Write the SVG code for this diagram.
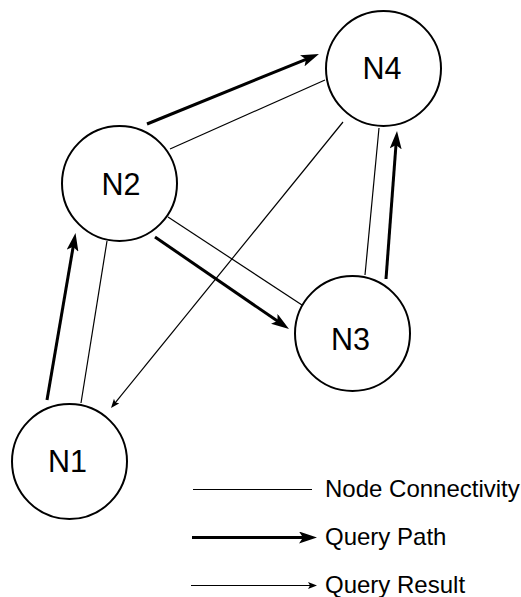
<svg xmlns="http://www.w3.org/2000/svg" width="521" height="597" viewBox="0 0 521 597">
  <style>
    .node circle { fill: #ffffff; stroke: #000000; stroke-width: 2; }
    .node text { font-family: "Liberation Sans", Arial, sans-serif; font-size: 30.5px; fill: #000000; text-anchor: middle; }
    .conn { stroke: #000000; stroke-width: 1.2; fill: none; }
    .path { stroke: #000000; stroke-width: 3; fill: none; marker-end: url(#thickArrow); }
    .result { stroke: #000000; stroke-width: 1.2; fill: none; marker-end: url(#thinArrow); }
    .legend { font-family: "Liberation Sans", Arial, sans-serif; font-size: 24px; fill: #000000; }
  </style>
  <defs>
    <marker id="thickArrow" markerUnits="userSpaceOnUse" markerWidth="18" markerHeight="12" refX="12" refY="6" orient="auto">
      <path d="M0,0 L18,6 L0,12 L4,6 z" fill="#000000"/>
    </marker>
    <marker id="thinArrow" markerUnits="userSpaceOnUse" markerWidth="10" markerHeight="8" refX="6" refY="3.5" orient="auto">
      <path d="M0,0 L9,3.5 L0,7 L2,3.5 z" fill="#000000"/>
    </marker>
  </defs>
  <rect width="521" height="597" fill="#ffffff"/>
  <g id="connectors">
    <line class="conn" x1="170" y1="149" x2="325" y2="80"/>
    <line class="conn" x1="379" y1="128" x2="365" y2="275"/>
    <line class="conn" x1="168" y1="217" x2="302" y2="305"/>
    <line class="conn" x1="107" y1="241" x2="81" y2="403"/>
    <line class="path" x1="147" y1="124" x2="313.4" y2="56.3"/>
    <line class="path" x1="47" y1="400" x2="74.5" y2="238.9"/>
    <line class="path" x1="155" y1="237" x2="284.05" y2="325.6"/>
    <line class="path" x1="386" y1="279" x2="396.56" y2="137.0"/>
    <line class="result" x1="343" y1="122" x2="112.9" y2="405.7"/>
  </g>
  <g id="N4" class="node">
    <circle cx="383.5" cy="68.5" r="57.5"/>
    <text x="382" y="78.5">N4</text>
  </g>
  <g id="N2" class="node">
    <circle cx="119.5" cy="183.5" r="57.5"/>
    <text x="121" y="194.5">N2</text>
  </g>
  <g id="N3" class="node">
    <circle cx="352.5" cy="333.5" r="57.5"/>
    <text x="350.5" y="350">N3</text>
  </g>
  <g id="N1" class="node">
    <circle cx="69.5" cy="461.5" r="57.5"/>
    <text x="67.5" y="472">N1</text>
  </g>
  <g id="legend">
    <line class="conn" x1="193" y1="489.5" x2="312" y2="489.5"/>
    <text class="legend" x="325" y="497">Node Connectivity</text>
    <line class="path" x1="192" y1="537.5" x2="311" y2="537.5"/>
    <text class="legend" x="325" y="545">Query Path</text>
    <line class="result" x1="191" y1="585.5" x2="314" y2="585.5"/>
    <text class="legend" x="325" y="593">Query Result</text>
  </g>
</svg>
